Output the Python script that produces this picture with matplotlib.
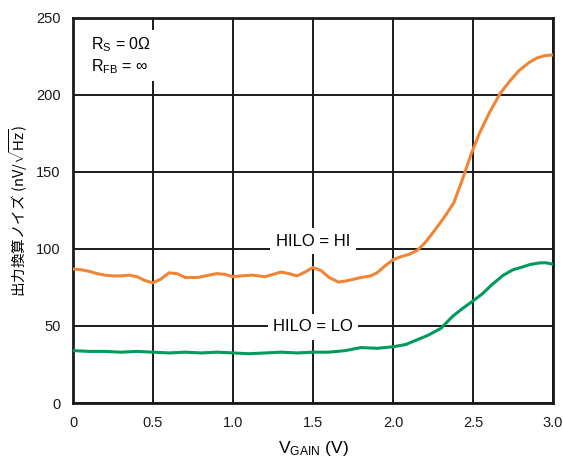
import numpy as np
import matplotlib
matplotlib.use('Agg')
import matplotlib.pyplot as plt

# (V_GAIN in V, noise in nV/rtHz)
v_hi = [0.0, 0.05, 0.1, 0.15, 0.2, 0.25, 0.3, 0.35, 0.4, 0.45, 0.5, 0.55, 0.6,
        0.65, 0.7, 0.78, 0.85, 0.9, 0.95, 1.0, 1.05, 1.12, 1.2, 1.25, 1.3, 1.35,
        1.4, 1.45, 1.5, 1.55, 1.6, 1.66, 1.72, 1.8, 1.86, 1.9, 1.95, 2.0, 2.05,
        2.1, 2.15, 2.2, 2.26, 2.33, 2.38, 2.43, 2.49, 2.54, 2.6, 2.67, 2.73, 2.79,
        2.85, 2.9, 2.95, 3.0]
n_hi = [87, 86.5, 85.5, 84, 83, 82.5, 82.5, 83, 82, 79.5, 78, 80.5, 84.5,
        84, 81.5, 81.5, 83, 84, 83.5, 82, 82.5, 83, 82, 83.5, 85, 84,
        82.5, 85, 88, 86, 81.5, 78.5, 79.5, 81.5, 82.5, 84.5, 89, 93, 95,
        96.5, 99, 104, 112, 122, 130, 144, 162, 175, 188, 201, 209, 216,
        221, 224, 225.5, 226]

v_lo = [0.0, 0.1, 0.2, 0.3, 0.4, 0.5, 0.6, 0.7, 0.8, 0.9, 1.0, 1.1, 1.2, 1.3,
        1.4, 1.5, 1.6, 1.7, 1.8, 1.9, 2.0, 2.08, 2.15, 2.22, 2.3, 2.37, 2.43,
        2.49, 2.56, 2.62, 2.69, 2.75, 2.8, 2.86, 2.92, 2.96, 3.0]
n_lo = [34, 33.5, 33.5, 33, 33.5, 33, 32.5, 33, 32.5, 33, 32.5, 32, 32.5, 33,
        32.5, 33, 33, 34, 36, 35.5, 36.5, 38, 41, 44, 48.5, 56, 61,
        65.5, 71, 77, 83, 86.5, 88, 90, 91, 91, 90]

xticks = [0, 0.5, 1.0, 1.5, 2.0, 2.5, 3.0]
xticklabels = ['0', '0.5', '1.0', '1.5', '2.0', '2.5', '3.0']
yticks = [0, 50, 100, 150, 200, 250]

plt.rcParams['font.family'] = ['Liberation Sans', 'Noto Sans CJK JP', 'DejaVu Sans']
plt.rcParams['mathtext.fontset'] = 'custom'
plt.rcParams['mathtext.rm'] = 'Liberation Sans'
plt.rcParams['mathtext.it'] = 'Liberation Sans'

fig = plt.figure(figsize=(5.63, 4.59), dpi=100)
ax = fig.add_axes([0.1297, 0.122, 0.8525, 0.839])

ax.plot(v_hi, n_hi, color='#ef8535', lw=2.2, zorder=3)
ax.plot(v_lo, n_lo, color='#009a5c', lw=2.2, zorder=3)

ax.set_xlim(0, 3.0)
ax.set_ylim(0, 250)
ax.set_xticks(xticks)
ax.set_xticklabels(xticklabels)
ax.set_yticks(yticks)
ax.grid(True, color='#1a1a1a', lw=1.4)
ax.tick_params(length=0, labelsize=10.5, pad=9, colors='#1a1a1a')
for s in ax.spines.values():
    s.set_linewidth(2)
    s.set_color('#1a1a1a')

box = dict(facecolor='white', edgecolor='none', pad=4)
ax.text(1.5, 105, 'HILO = HI', ha='center', va='center', fontsize=12, bbox=box, zorder=4)
ax.text(1.5, 49.5, 'HILO = LO', ha='center', va='center', fontsize=12, bbox=box, zorder=4)
ax.text(0.11, 225.5, r'R$_\mathrm{S}$ = 0Ω' + '\n' + r'R$_\mathrm{FB}$ = ∞',
        ha='left', va='center', fontsize=11.5, linespacing=1.2, bbox=box, zorder=4)

ax.set_xlabel(r'V$_\mathrm{GAIN}$ (V)', fontsize=12.5, labelpad=7)
# mixed text+math uses the label's own font for the plain part, so give it the CJK family
ax.set_ylabel(r'出力換算ノイズ (nV/$\sqrt{\mathrm{Hz}}$)', fontsize=10.5, labelpad=4,
              family='Noto Sans CJK JP')

fig.savefig('out.png', dpi=100)
